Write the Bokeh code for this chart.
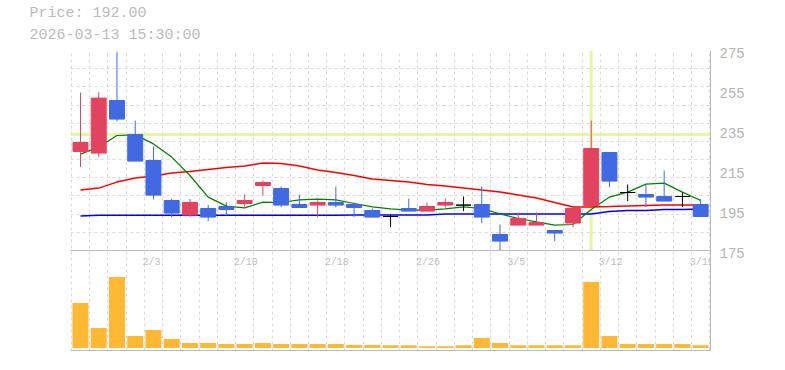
import numpy as np
from bokeh.plotting import figure
from bokeh.models import Range1d, LinearAxis, FixedTicker, Span, Title, ColumnDataSource, Grid
from bokeh.embed import file_html
from bokeh.resources import INLINE
from bokeh.core.properties import value

# ---------------- data ----------------
dates = ["1/28", "1/29", "1/30", "2/2", "2/3", "2/4", "2/5", "2/6", "2/9", "2/10",
         "2/12", "2/13", "2/16", "2/17", "2/18", "2/19", "2/20", "2/24", "2/25", "2/26",
         "2/27", "3/2", "3/3", "3/4", "3/5", "3/6", "3/9", "3/10", "3/11", "3/12",
         "3/13", "3/16", "3/17", "3/18", "3/19"]
opens = [224.5, 223.7, 250.0, 233.0, 220.0, 200.0, 192.7, 196.0, 197.0, 198.5,
         207.5, 206.0, 198.0, 197.7, 199.0, 198.0, 195.0, 192.0, 196.0, 194.7,
         197.7, 197.7, 198.0, 183.0, 187.7, 187.7, 185.0, 188.7, 197.5, 224.0,
         204.0, 203.0, 202.0, 202.0, 198.0]
highs = [254.0, 254.2, 274.2, 240.0, 227.0, 200.8, 200.8, 197.8, 199.2, 203.0,
         210.0, 207.0, 203.0, 200.0, 207.0, 199.0, 196.0, 193.0, 201.0, 199.0,
         201.0, 202.0, 207.0, 188.0, 194.0, 194.0, 185.0, 196.7, 240.0, 224.0,
         208.0, 208.0, 215.0, 204.0, 200.7]
lows = [216.7, 221.7, 239.5, 219.7, 200.5, 191.7, 191.7, 189.7, 192.5, 196.3,
        202.5, 196.7, 196.5, 191.7, 196.5, 191.7, 191.7, 186.7, 194.7, 194.7,
        196.5, 194.7, 188.7, 175.0, 187.7, 187.7, 179.7, 186.7, 197.5, 206.7,
        199.7, 196.7, 199.7, 196.7, 192.0]
closes = [229.0, 251.2, 240.7, 219.7, 202.7, 193.7, 199.0, 191.7, 195.5, 200.0,
          209.0, 197.7, 196.5, 199.0, 197.7, 196.5, 191.7, 192.0, 194.7, 197.0,
          199.0, 197.7, 191.7, 179.7, 191.0, 189.0, 183.7, 196.0, 226.0, 209.7,
          204.0, 201.7, 199.7, 202.0, 192.0]
volumes = [900000, 400000, 1420000, 240000, 360000, 180000, 100000, 100000, 80000, 80000,
           100000, 80000, 80000, 80000, 80000, 60000, 60000, 54000, 54000, 34000,
           34000, 54000, 200000, 100000, 54000, 54000, 54000, 54000, 1320000, 240000,
           80000, 80000, 80000, 80000, 54000]
ma5 = [223.2, 226.7, 232.5, 232.8, 228.3, 221.7, 212.5, 201.7, 197.2, 196.3,
       199.2, 199.0, 200.3, 200.7, 200.3, 198.5, 196.8, 195.8, 195.2, 195.2,
       195.8, 196.8, 196.0, 193.3, 191.0, 189.3, 187.7, 188.0, 195.5, 201.7,
       204.2, 208.2, 208.7, 204.2, 200.0]
ma25 = [205.3, 206.2, 209.2, 211.3, 212.3, 213.7, 214.5, 215.5, 216.5, 217.3,
        218.7, 218.5, 217.2, 215.3, 214.0, 212.5, 210.8, 210.0, 209.2, 208.0,
        207.2, 206.3, 205.2, 204.2, 202.8, 201.2, 199.0, 196.8, 196.8, 197.0,
        197.3, 197.5, 197.7, 197.8, 197.8]
ma75 = [192.3, 192.6, 192.6, 192.6, 192.6, 192.6, 192.6, 192.6, 192.6, 192.6,
        192.6, 192.6, 192.6, 192.6, 192.6, 192.8, 192.8, 192.8, 192.8, 192.8,
        193.3, 193.3, 193.3, 193.3, 193.3, 193.3, 193.3, 193.3, 193.3, 194.5,
        195.0, 195.0, 195.5, 195.5, 195.8]
price_ticks = [175, 195, 215, 235, 255, 275]
date_ticks = ["2/3", "2/10", "2/18", "2/26", "3/5", "3/12", "3/19"]
header_price = "Price: 192.00"
header_time = "2026-03-13 15:30:00"
cursor_date = "3/11"
cursor_price = 233.0

# ---------------- styling ----------------
UP = "#e24460"
DOWN = "#4169e1"
EVEN = "#000000"
VOL = "#ffb833"
GRID = "#d9d9d9"
BORDER = "#bbbbbb"
CROSS = "#e4f5a6"
MONO = "Liberation Mono"
LABEL_SHIFT = 1.0   # price labels sit slightly below their grid value

n = len(dates)
idx = list(range(n))
colors = [UP if c > o else (DOWN if c < o else EVEN) for o, c in zip(opens, closes)]
src = ColumnDataSource(dict(
    x=idx, o=opens, h=highs, l=lows, c=closes, v=volumes,
    top=[max(o, c) for o, c in zip(opens, closes)],
    bot=[min(o, c) for o, c in zip(opens, closes)],
    color=colors,
))

p = figure(width=785, height=370, output_backend="svg", toolbar_location=None,
           x_range=Range1d(-0.548, n - 0.46), y_range=Range1d(125, 275),
           x_axis_location=None, y_axis_location=None,
           min_border_left=70, min_border_right=75, min_border_top=50, min_border_bottom=20,
           background_fill_color="white", border_fill_color="white")
p.outline_line_color = None
p.grid.visible = False
p.extra_y_ranges = {"vol": Range1d(-50000, 5950000)}

# header (two title lines, nearest first)
p.add_layout(Title(text=header_time, align="left", offset=-41, standoff=13.5,
                   text_font=MONO, text_font_size="15px", text_color="#bbbbbb",
                   text_font_style="normal"), "above")
p.add_layout(Title(text=header_price, align="left", offset=-41, standoff=-9,
                   text_font=MONO, text_font_size="15px", text_color="#bbbbbb",
                   text_font_style="normal"), "above")

# grids
xgrid = Grid(dimension=0, ticker=FixedTicker(ticks=[i + 0.5 for i in range(-1, n)]),
             grid_line_color=GRID, grid_line_dash="3 3", grid_line_width=1)
ygrid = Grid(dimension=1, ticker=FixedTicker(ticks=[price_ticks[0] + k * (price_ticks[-1] - price_ticks[0]) / 11 for k in range(12)]),
             grid_line_color=GRID, grid_line_dash="3 3", grid_line_width=1)
p.add_layout(xgrid)
p.add_layout(ygrid)

# axes
label_pos = [t - LABEL_SHIFT for t in price_ticks]
ax_r = LinearAxis(ticker=FixedTicker(ticks=label_pos),
                  major_label_overrides={pos: str(t) for pos, t in zip(label_pos, price_ticks)},
                  axis_line_color=BORDER,
                  major_tick_line_color=None, minor_tick_line_color=None,
                  major_tick_out=0, major_tick_in=0,
                  major_label_text_color="#b4b4b4", major_label_text_font=MONO,
                  major_label_text_font_size="14px", major_label_standoff=9)
p.add_layout(ax_r, "right")
ax_b = LinearAxis(ticker=FixedTicker(ticks=[]), axis_line_color=BORDER,
                  major_tick_line_color=None, minor_tick_line_color=None)
p.add_layout(ax_b, "below")

# separator between panels
p.add_layout(Span(location=price_ticks[0], dimension="width", line_color=BORDER, line_width=1))

# crosshair (behind candles)
p.add_layout(Span(location=cursor_price, dimension="width", line_color=CROSS, line_width=3, level="underlay"))
ci = dates.index(cursor_date)
p.segment(x0=[ci], y0=[price_ticks[0]], x1=[ci], y1=[price_ticks[-1]], line_color=CROSS, line_width=3)

# volume
p.vbar(x="x", width=0.877, top="v", bottom=0, source=src, y_range_name="vol",
       fill_color=VOL, line_color=None)

# moving averages
p.line(idx, ma75, line_color="#0000ff", line_width=1.5)
p.line(idx, ma25, line_color="#ff0000", line_width=1.5)
p.line(idx, ma5, line_color="#008000", line_width=1.2)

# candles
p.segment(x0="x", y0="l", x1="x", y1="h", source=src, line_color="color", line_width=1)
p.vbar(x="x", width=0.82, top="top", bottom="bot", source=src,
       fill_color="color", line_color="color", line_width=1)

# date labels inside volume panel
p.text(x=[dates.index(d) for d in date_ticks], y=169, text=date_ticks,
       text_font=value(MONO), text_font_size="10px", text_color="#c0c0c0",
       text_align="left", text_baseline="middle", x_offset=-11)

open("out.html", "w").write(file_html(p, INLINE))
